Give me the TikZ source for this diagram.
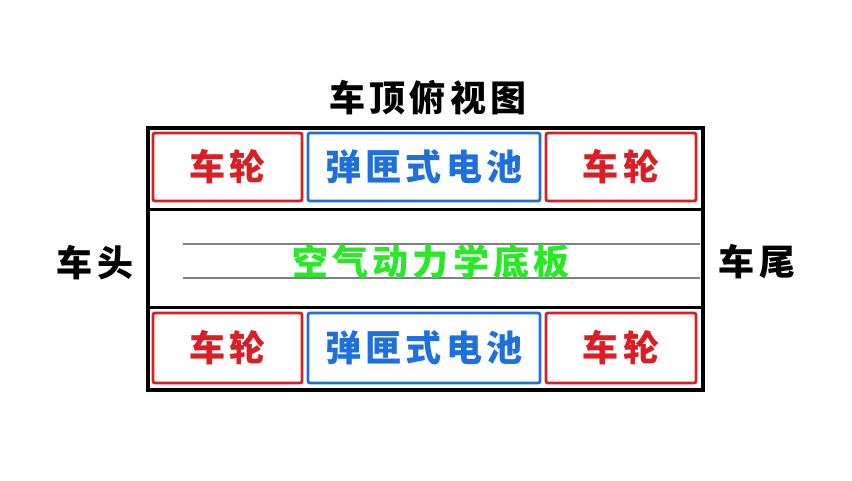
\documentclass[tikz,border=0pt]{standalone}
\usepackage{fontspec}
\newfontfamily\cjk[UprightFont=* Black, LetterSpace=12]{Noto Sans CJK SC}
\definecolor{wheelred}{RGB}{218,30,38}
\definecolor{battblue}{RGB}{30,112,220}
\definecolor{plategreen}{RGB}{40,232,40}
\begin{document}
\begin{tikzpicture}[x=1pt, y=-1pt,
    wheelbox/.style={draw=wheelred, line width=2.8pt, rounded corners=2pt, text=wheelred, font=\cjk\fontsize{36}{36}\selectfont, inner sep=0pt},
    battbox/.style={draw=battblue, line width=2.8pt, rounded corners=2pt, text=battblue, font=\cjk\fontsize{36}{36}\selectfont, inner sep=0pt},
    caption/.style={text=black, font=\cjk\fontsize{36}{36}\selectfont}]
    \useasboundingbox (0,0) rectangle (852,480);

    % frame of the car
    \node[draw, line width=3.2pt, minimum width=555pt, minimum height=262pt, inner sep=0pt] (frame) at (425.5,259) {};
    \draw[line width=3pt] (148,209.5) -- (703,209.5);
    \draw[line width=3pt] (148,307.5) -- (703,307.5);

    % floor lines
    \draw[gray, line width=1.6pt] (183,244) -- (700,244);
    \draw[gray, line width=1.6pt] (183,278) -- (700,278);
    \node[text=plategreen, font=\cjk\fontsize{36}{36}\selectfont] (plate) at (431,262) {空气动力学底板};

    % top row
    \node[wheelbox, minimum width=149pt, minimum height=68pt] (wheelTL) at (227.5,167) {车轮};
    \node[battbox, minimum width=232pt, minimum height=68pt] (battT) at (424,167) {弹匣式电池};
    \node[wheelbox, minimum width=150pt, minimum height=68pt] (wheelTR) at (621,167) {车轮};

    % bottom row
    \node[wheelbox, minimum width=149pt, minimum height=70pt] (wheelBL) at (227.5,348) {车轮};
    \node[battbox, minimum width=232pt, minimum height=70pt] (battB) at (424,348) {弹匣式电池};
    \node[wheelbox, minimum width=150pt, minimum height=70pt] (wheelBR) at (621,348) {车轮};

    % labels
    \node[caption] (title) at (428,98) {车顶俯视图};
    \node[caption] (front) at (95,263) {车头};
    \node[caption] (rear) at (757,262) {车尾};
\end{tikzpicture}
\end{document}
